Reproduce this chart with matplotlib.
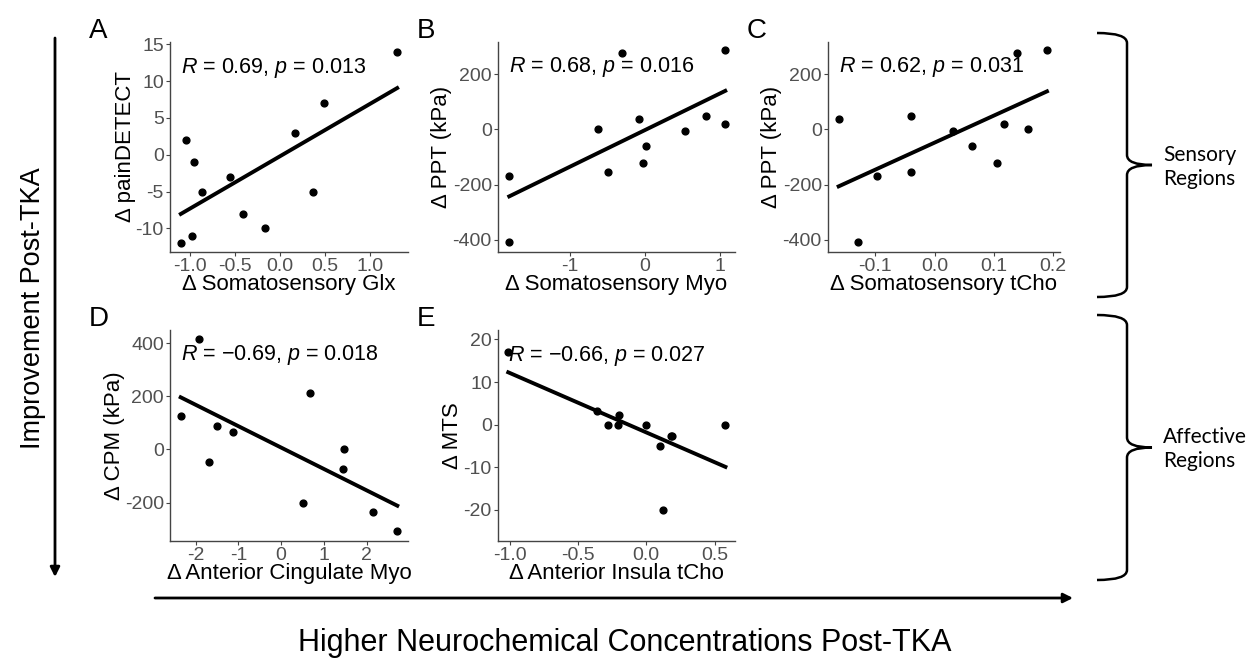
import numpy as np
import matplotlib
matplotlib.use('Agg')
import matplotlib.pyplot as plt
from matplotlib.path import Path
from matplotlib.patches import PathPatch
from matplotlib.ticker import FormatStrFormatter

plt.rcParams['font.family'] = ['Liberation Sans', 'DejaVu Sans']
plt.rcParams['mathtext.fontset'] = 'custom'
plt.rcParams['mathtext.rm'] = 'Liberation Sans'
plt.rcParams['mathtext.it'] = 'Liberation Sans:italic'
plt.rcParams['axes.unicode_minus'] = False

# ---- data ----
glx_x = [-1.10, -1.04, -0.98, -0.95, -0.86, -0.55, -0.41, -0.17, 0.17, 0.37, 0.49, 1.30]
paindetect_y = [-12, 2, -11, -1, -5, -3, -8, -10, 3, -5, 7, 14]

myo_x = [-1.81, -1.81, -0.62, -0.49, -0.31, -0.08, -0.03, 0.02, 0.53, 0.81, 1.07, 1.07]
ppt_myo_y = [-168, -409, 0, -153, 275, 38, -123, -60, -6, 49, 287, 19]

tcho_x = [-0.162, -0.130, -0.097, -0.040, -0.040, 0.031, 0.063, 0.105, 0.117, 0.140, 0.158, 0.190]
ppt_tcho_y = [37, -409, -168, 49, -153, -6, -60, -123, 19, 275, 0, 287]

acc_myo_x = [-2.35, -1.91, -1.69, -1.49, -1.12, 0.52, 0.68, 1.45, 1.48, 2.16, 2.72]
cpm_y = [126, 415, -49, 90, 64, -200, 211, -73, 1, -234, -309]

ins_tcho_x = [-1.01, -0.36, -0.28, -0.21, -0.20, 0.00, 0.10, 0.12, 0.18, 0.19, 0.58]
mts_y = [17, 3.3, 0, 0, 2.3, 0, -5, -20, -2.6, -2.6, 0]

letters = ['A', 'B', 'C', 'D', 'E']
xlabels = ['Δ Somatosensory Glx', 'Δ Somatosensory Myo', 'Δ Somatosensory tCho',
           'Δ Anterior Cingulate Myo', 'Δ Anterior Insula tCho']
ylabels = ['Δ painDETECT', 'Δ PPT (kPa)', 'Δ PPT (kPa)', 'Δ CPM (kPa)', 'Δ MTS']
stat_text = [r'$R$ = 0.69, $p$ = 0.013', r'$R$ = 0.68, $p$ = 0.016', r'$R$ = 0.62, $p$ = 0.031',
             r'$R$ = $-$0.69, $p$ = 0.018', r'$R$ = $-$0.66, $p$ = 0.027']
stat_y = [11.8, 226, 226, 356, 16.2]

xticks = [[-1.0, -0.5, 0.0, 0.5, 1.0], [-1, 0, 1], [-0.1, 0.0, 0.1, 0.2], [-2, -1, 0, 1, 2], [-1.0, -0.5, 0.0, 0.5]]
yticks = [[-10, -5, 0, 5, 10, 15], [-400, -200, 0, 200], [-400, -200, 0, 200], [-200, 0, 200, 400], [-20, -10, 0, 10, 20]]
xlims = [(-1.22, 1.42), (-1.96, 1.2), (-0.18, 0.212), (-2.6, 2.97), (-1.085, 0.65)]
ylims = [(-13.2, 15.3), (-444, 316), (-444, 316), (-345, 450), (-27.3, 22.2)]
xfmt = ['%.1f', '%d', '%.1f', '%d', '%.1f']

xs = [glx_x, myo_x, tcho_x, acc_myo_x, ins_tcho_x]
ys = [paindetect_y, ppt_myo_y, ppt_tcho_y, cpm_y, mts_y]

W, H = 1255, 659
fig = plt.figure(figsize=(W / 100, H / 100), dpi=100)

# axes boxes in pixels: left, top, right, bottom
boxes = [(170, 42, 408, 252), (498, 42, 735, 252), (828, 42, 1060, 252),
         (170, 330, 408, 541), (498, 330, 735, 541)]

for i in range(5):
    l, t, r, b = boxes[i]
    ax = fig.add_axes([l / W, 1 - b / H, (r - l) / W, (b - t) / H])
    x = np.array(xs[i]); y = np.array(ys[i])
    ax.scatter(x, y, s=24, color='black', zorder=3)
    k, c = np.polyfit(x, y, 1)
    xx = np.array([x.min(), x.max()])
    ax.plot(xx, k * xx + c, color='black', lw=2.8)
    ax.text(x.min(), stat_y[i], stat_text[i], fontsize=15.5, ha='left', va='center')
    ax.set_xlim(xlims[i]); ax.set_ylim(ylims[i])
    ax.set_xticks(xticks[i]); ax.set_yticks(yticks[i])
    ax.xaxis.set_major_formatter(FormatStrFormatter(xfmt[i]))
    for s in ['top', 'right']:
        ax.spines[s].set_visible(False)
    for s in ['left', 'bottom']:
        ax.spines[s].set_color('#444444')
        ax.spines[s].set_linewidth(1.0)
    ax.tick_params(labelsize=14, labelcolor='#505050', color='#444444', length=3, width=0.8, pad=1.5)
    ax.set_xlabel(xlabels[i], fontsize=16, labelpad=-1)
    ax.set_ylabel(ylabels[i], fontsize=16, labelpad=0)
    fig.text((l - 81) / W, 1 - (t - 11) / H, letters[i], fontsize=20, ha='left', va='center')

# overlay for arrows, braces and side labels
ov = fig.add_axes([0, 0, 1, 1])
ov.set_xlim(0, W); ov.set_ylim(H, 0)
ov.axis('off')

ov.annotate('', xy=(55, 577), xytext=(55, 38),
            arrowprops=dict(arrowstyle='-|>', lw=2, color='black', mutation_scale=14, shrinkA=0, shrinkB=0))
ov.text(33, 308, 'Improvement Post-TKA', rotation=90, fontsize=19.5, ha='center', va='center')
ov.annotate('', xy=(1073, 598), xytext=(155, 598),
            arrowprops=dict(arrowstyle='-|>', lw=2, color='black', mutation_scale=14, shrinkA=0, shrinkB=0))
ov.text(625, 643, 'Higher Neurochemical Concentrations Post-TKA', fontsize=22, ha='center', va='center')


def brace(ax, x0, x1, x2, top, bot, r=10):
    mid = (top + bot) / 2
    verts = [(x0, top), (x1, top), (x1, top + r), (x1, mid - r), (x1, mid), (x2, mid),
             (x1, mid), (x1, mid + r), (x1, bot - r), (x1, bot), (x0, bot)]
    codes = [Path.MOVETO, Path.CURVE3, Path.CURVE3, Path.LINETO, Path.CURVE3, Path.CURVE3,
             Path.CURVE3, Path.CURVE3, Path.LINETO, Path.CURVE3, Path.CURVE3]
    ax.add_patch(PathPatch(Path(verts, codes), fill=False, lw=1.8, color='black'))


brace(ov, 1097, 1127, 1152, 33, 297)
brace(ov, 1097, 1127, 1152, 315, 580)
side_font = ['Lato', 'DejaVu Sans']
ov.text(1163, 167, 'Sensory\nRegions', fontsize=15, ha='left', va='center', family=side_font, linespacing=1.25)
ov.text(1163, 449, 'Affective\nRegions', fontsize=15, ha='left', va='center', family=side_font, linespacing=1.25)

fig.savefig('out.png', dpi=100)
